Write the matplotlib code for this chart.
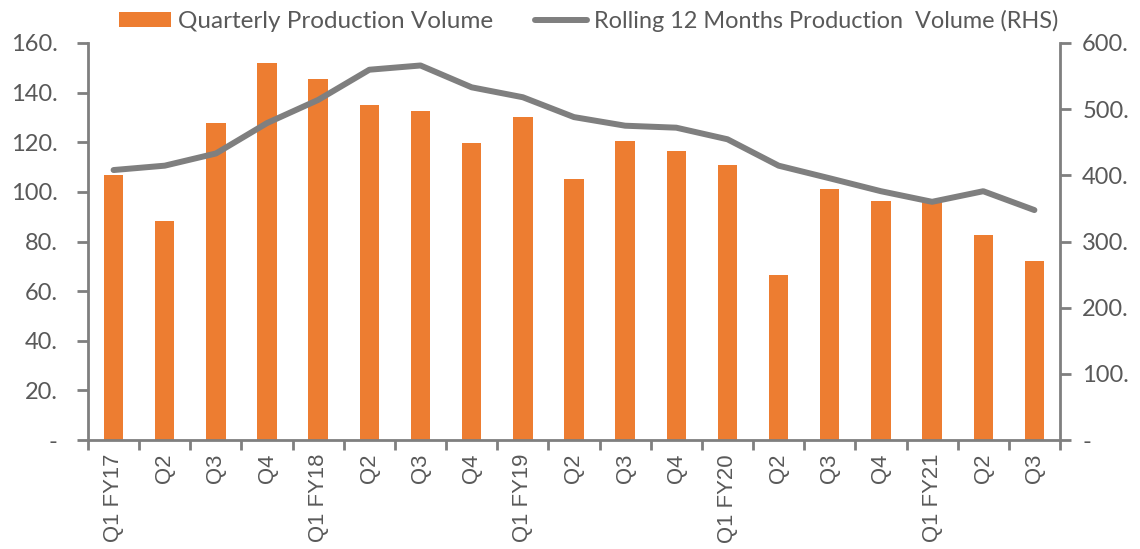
import matplotlib
matplotlib.use("Agg")
import matplotlib.pyplot as plt
from matplotlib.ticker import FuncFormatter, FixedLocator
from matplotlib.lines import Line2D
from matplotlib.patches import Patch

categories = ["Q1 FY17", "Q2", "Q3", "Q4", "Q1 FY18", "Q2", "Q3", "Q4",
              "Q1 FY19", "Q2", "Q3", "Q4", "Q1 FY20", "Q2", "Q3", "Q4",
              "Q1 FY21", "Q2", "Q3"]
quarterly = [106.8, 88.2, 127.8, 152.1, 145.6, 135.1, 132.7, 119.7, 130.2,
             105.2, 120.5, 116.5, 110.8, 66.4, 101.1, 96.3, 96.5, 82.6, 72.1]
rolling = [408, 414.6, 433, 479, 514, 559.6, 566, 533, 518, 488, 475, 472,
           454.5, 414.6, 395.5, 376, 360, 376, 347.5]

ORANGE = "#ED7D31"
GREY = "#7F7F7F"
TXT = "#595959"
LAB_FONT = ["Lato", "DejaVu Sans"]
X_FONT = ["Liberation Sans", "DejaVu Sans"]

fig = plt.figure(figsize=(11.4, 5.49), dpi=100)
ax = fig.add_axes([0.0772, 0.1985, 0.8526, 0.7232])
ax2 = ax.twinx()

x = list(range(len(categories)))
ax.bar(x, quarterly, width=0.38, color=ORANGE, zorder=2)
ax2.plot(x, rolling, color=GREY, linewidth=4.3, solid_capstyle="round", zorder=3)

ax.set_xlim(-0.5, len(categories) - 0.5)
ax.set_ylim(0, 160)
ax2.set_ylim(0, 600)

ax.set_yticks(range(0, 161, 20))
ax2.set_yticks(range(0, 601, 100))

def fmt(v, pos):
    return "-" if abs(v) < 1e-9 else f"{v:.0f}."

ax.yaxis.set_major_formatter(FuncFormatter(fmt))
ax2.yaxis.set_major_formatter(FuncFormatter(fmt))

ax.set_xticks(x)
ax.set_xticklabels(categories, rotation=90, fontsize=15.9, color=TXT,
                   family=X_FONT)
ax.tick_params(axis="x", which="major", length=0, pad=10)
ax.xaxis.set_minor_locator(FixedLocator([i - 0.5 for i in range(len(categories) + 1)]))
ax.tick_params(axis="x", which="minor", length=7, width=2, color=GREY, direction="out")

ax.tick_params(axis="y", length=8, width=2, color=GREY, direction="out",
               labelsize=17, labelcolor=TXT, pad=14)
ax2.tick_params(axis="y", length=8, width=2, color=GREY, direction="out",
                labelsize=17, labelcolor=TXT, pad=8)
for lab in ax.get_yticklabels() + ax2.get_yticklabels():
    lab.set_family(LAB_FONT)

for a in (ax, ax2):
    for s in a.spines.values():
        s.set_visible(False)
ax.spines["left"].set_visible(True)
ax.spines["bottom"].set_visible(True)
ax2.spines["right"].set_visible(True)
for s in (ax.spines["left"], ax.spines["bottom"], ax2.spines["right"]):
    s.set_color(GREY)
    s.set_linewidth(2)

handles = [Patch(facecolor=ORANGE, edgecolor="none"),
           Line2D([0], [0], color=GREY, linewidth=4.3, solid_capstyle="round")]
labels = ["Quarterly Production Volume",
          "Rolling 12 Months Production  Volume (RHS)"]
leg = fig.legend(handles, labels, loc="center left",
                 bbox_to_anchor=(0.0852, 1 - 21 / 549),
                 ncol=2, frameon=False, prop={"family": LAB_FONT, "size": 17.5},
                 handlelength=2.15, handleheight=0.55, columnspacing=1.7,
                 handletextpad=0.28)
for t in leg.get_texts():
    t.set_color(TXT)
leg.get_texts()[1].set_fontsize(16.9)

fig.savefig("out.png", dpi=100)
